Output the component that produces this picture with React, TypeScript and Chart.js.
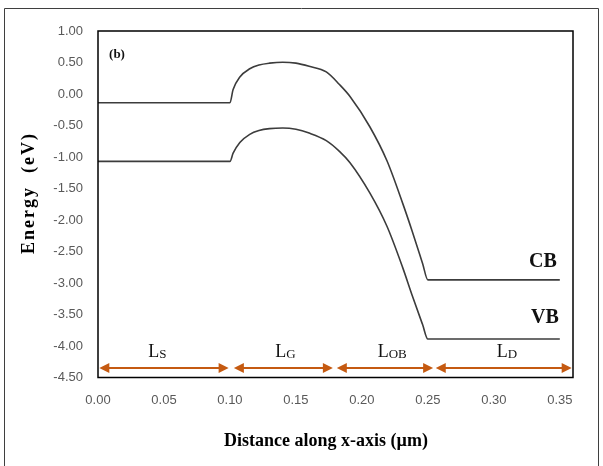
import React, { useEffect, useRef } from "react";
import { Chart, registerables } from "chart.js";

Chart.register(...registerables);

// Conduction band (CB) profile
const cbDistance = [0, 0.1, 0.1024, 0.1075, 0.115, 0.122, 0.13, 0.14, 0.15, 0.16, 0.173, 0.183, 0.191, 0.206, 0.219, 0.231, 0.238, 0.246, 0.25, 0.35];
const cbEnergy = [-0.14, -0.14, 0.07, 0.27, 0.4, 0.46, 0.49, 0.505, 0.49, 0.44, 0.35, 0.15, -0.04, -0.52, -1.06, -1.74, -2.17, -2.69, -2.95, -2.95];

// Valence band (VB) profile
const vbDistance = [0, 0.1, 0.1024, 0.1075, 0.115, 0.122, 0.13, 0.14, 0.15, 0.16, 0.173, 0.183, 0.191, 0.206, 0.219, 0.231, 0.238, 0.246, 0.25, 0.35];
const vbEnergy = [-1.07, -1.07, -0.94, -0.77, -0.64, -0.58, -0.55, -0.54, -0.56, -0.62, -0.74, -0.91, -1.09, -1.57, -2.1, -2.76, -3.19, -3.66, -3.89, -3.89];

// Tick labels
const xTickValues = [0, 0.05, 0.1, 0.15, 0.2, 0.25, 0.3, 0.35];
const yTickValues = [1, 0.5, 0, -0.5, -1, -1.5, -2, -2.5, -3, -3.5, -4, -4.5];

// Region arrows (start, end) and labels
const regionStarts = [0.001, 0.103, 0.181, 0.256];
const regionEnds = [0.099, 0.178, 0.254, 0.359];
const regionMain = ["L", "L", "L", "L"];
const regionSub = ["S", "G", "OB", "D"];
const regionLabelX = [0.045, 0.142, 0.223, 0.31];
const arrowEnergy = -4.35;
const regionLabelEnergy = -4.1;

const SERIF = "'Liberation Serif', 'DejaVu Serif', serif";
const SANS = "'Liberation Sans', Arial, sans-serif";

const overlay = {
  id: "overlay",
  afterDraw(chart: any) {
    const { ctx, chartArea: a, scales } = chart;
    const xs = scales.x;
    const ys = scales.y;
    ctx.save();

    // outer frame
    ctx.strokeStyle = "#3f3f3f";
    ctx.lineWidth = 1;
    ctx.beginPath();
    ctx.moveTo(4.5, 466);
    ctx.lineTo(4.5, 8.5);
    ctx.lineTo(598.5, 8.5);
    ctx.lineTo(598.5, 466);
    ctx.stroke();

    // plot border
    ctx.strokeStyle = "#000";
    ctx.lineWidth = 1.5;
    ctx.strokeRect(a.left, a.top, a.right - a.left, a.bottom - a.top);

    // arrows
    const orange = "#c55a11";
    const ay = ys.getPixelForValue(arrowEnergy);
    ctx.strokeStyle = orange;
    ctx.fillStyle = orange;
    ctx.lineWidth = 2;
    const head = (tipX: number, dir: number) => {
      ctx.beginPath();
      ctx.moveTo(tipX, ay);
      ctx.lineTo(tipX - dir * 10, ay - 5);
      ctx.lineTo(tipX - dir * 10, ay + 5);
      ctx.closePath();
      ctx.fill();
    };
    for (let i = 0; i < regionStarts.length; i++) {
      const x1 = xs.getPixelForValue(regionStarts[i]);
      const x2 = xs.getPixelForValue(regionEnds[i]);
      ctx.beginPath();
      ctx.moveTo(x1 + 5, ay);
      ctx.lineTo(x2 - 5, ay);
      ctx.stroke();
      head(x1, -1);
      head(x2, 1);
    }

    // region labels
    ctx.fillStyle = "#111";
    ctx.textBaseline = "alphabetic";
    const ly = ys.getPixelForValue(regionLabelEnergy) + 5;
    for (let i = 0; i < regionMain.length; i++) {
      ctx.font = `18px ${SERIF}`;
      const w1 = ctx.measureText(regionMain[i]).width;
      ctx.font = `13px ${SERIF}`;
      const w2 = ctx.measureText(regionSub[i]).width;
      const cx = xs.getPixelForValue(regionLabelX[i]);
      const sx = cx - (w1 + w2) / 2;
      ctx.font = `18px ${SERIF}`;
      ctx.textAlign = "left";
      ctx.fillText(regionMain[i], sx, ly);
      ctx.font = `13px ${SERIF}`;
      ctx.fillText(regionSub[i], sx + w1, ly + 1);
    }

    // band labels
    ctx.font = `bold 20px ${SERIF}`;
    ctx.textAlign = "center";
    ctx.textBaseline = "middle";
    ctx.fillStyle = "#111";
    ctx.fillText("CB", 543, 262);
    ctx.fillText("VB", 545, 318);

    // panel label
    ctx.font = `bold 13px ${SERIF}`;
    ctx.fillText("(b)", 117, 55);

    // axis titles
    ctx.font = `bold 18px ${SERIF}`;
    ctx.fillStyle = "#000";
    ctx.fillText("Distance along x-axis (\u00b5m)", 326, 441);

    ctx.translate(29, 193);
    ctx.rotate(-Math.PI / 2);
    (ctx as any).letterSpacing = "2px";
    ctx.fillText("Energy  (eV)", 0, 0);
    ctx.restore();
  },
};

export default function App() {
  const ref = useRef<HTMLCanvasElement | null>(null);

  useEffect(() => {
    if (!ref.current) return;
    const chart = new Chart(ref.current, {
      type: "line",
      data: {
        datasets: [
          {
            label: "CB",
            data: cbDistance.map((d, i) => ({ x: d, y: cbEnergy[i] })),
            borderColor: "#3c3c3c",
            borderWidth: 1.6,
            pointRadius: 0,
            cubicInterpolationMode: "monotone",
            fill: false,
          },
          {
            label: "VB",
            data: vbDistance.map((d, i) => ({ x: d, y: vbEnergy[i] })),
            borderColor: "#3c3c3c",
            borderWidth: 1.6,
            pointRadius: 0,
            cubicInterpolationMode: "monotone",
            fill: false,
          },
        ],
      },
      options: {
        animation: false,
        responsive: false,
        devicePixelRatio: 1,
        layout: { padding: { left: 0, top: 31, right: 30, bottom: 0 } },
        plugins: {
          legend: { display: false },
          tooltip: { enabled: false },
          title: { display: false },
        },
        scales: {
          x: {
            type: "linear",
            min: 0,
            max: 0.36,
            grid: { display: false, drawTicks: false },
            border: { display: false },
            afterBuildTicks: (s: any) => {
              s.ticks = xTickValues.map((v) => ({ value: v }));
            },
            afterFit: (s: any) => {
              s.height = 88.5;
            },
            ticks: {
              padding: 15,
              maxRotation: 0,
              autoSkip: false,
              color: "#595959",
              font: { family: SANS, size: 13 },
              callback: (v: any) => Number(v).toFixed(2),
            },
          },
          y: {
            type: "linear",
            min: -4.5,
            max: 1,
            grid: { display: false, drawTicks: false },
            border: { display: false },
            afterBuildTicks: (s: any) => {
              s.ticks = yTickValues.map((v) => ({ value: v }));
            },
            afterFit: (s: any) => {
              s.width = 98;
            },
            ticks: {
              padding: 15,
              autoSkip: false,
              color: "#595959",
              font: { family: SANS, size: 13 },
              callback: (v: any) => Number(v).toFixed(2),
            },
          },
        },
      },
      plugins: [overlay],
    } as any);
    return () => chart.destroy();
  }, []);

  return (
    <div style={{ position: "absolute", left: 0, top: 0, width: 603, height: 466, background: "#fff" }}>
      <canvas ref={ref} width={603} height={466} style={{ display: "block" }} />
    </div>
  );
}
